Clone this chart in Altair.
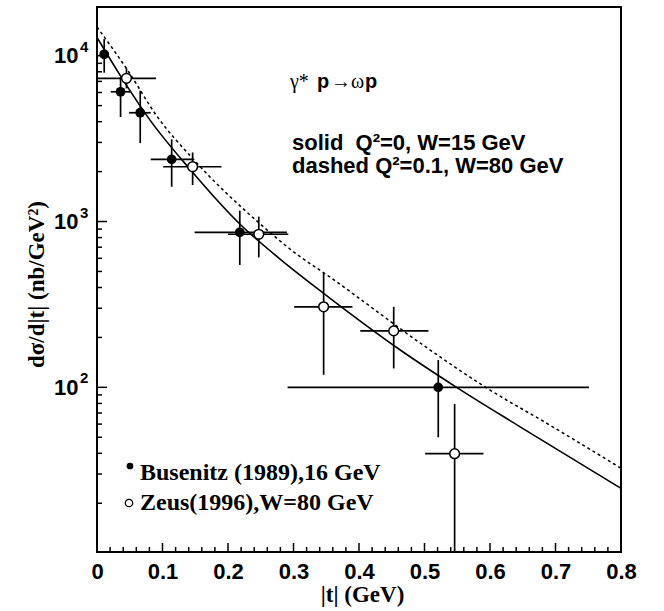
import altair as alt
import pandas as pd

# ---------------- data ----------------
# Busenitz (1989), 16 GeV  (filled circles)
t_fill = [0.011, 0.036, 0.066, 0.114, 0.218, 0.521]
s_fill = [10200, 6060, 4530, 2370, 861, 100]
s_fill_lo = [7900, 4270, 2970, 1620, 547, 50]
s_fill_hi = [12600, 7430, 6150, 3130, 1163, 146]
t_fill_lo = [0.011, 0.021, 0.049, 0.082, 0.149, 0.291]
t_fill_hi = [0.011, 0.051, 0.082, 0.146, 0.290, 0.751]

# Zeus (1996), W=80 GeV  (open circles)
t_open = [0.045, 0.146, 0.247, 0.346, 0.453, 0.546]
s_open = [7310, 2140, 838, 306, 219, 39.8]
s_open_lo = [6350, 1660, 608, 119, 130, 1]
s_open_hi = [8400, 2610, 1070, 491, 306, 79.3]
t_open_lo = [0.0, 0.101, 0.200, 0.301, 0.402, 0.501]
t_open_hi = [0.090, 0.190, 0.292, 0.390, 0.506, 0.590]

# model curves
t_solid = [0.0, 0.040, 0.081, 0.142, 0.218, 0.279, 0.346, 0.463, 0.549, 0.646, 0.8]
v_solid = [12900, 7130, 4090, 2065, 966, 596, 369, 168, 100, 57.8, 24.6]
t_dash = [0.0, 0.048, 0.091, 0.147, 0.249, 0.305, 0.351, 0.503, 0.590, 0.697, 0.8]
v_dash = [14900, 8035, 4345, 2377, 968, 635, 476, 174, 102, 57.4, 32.5]

# axes
x_major = [0.0, 0.1, 0.2, 0.3, 0.4, 0.5, 0.6, 0.7, 0.8]
x_minor = [0.02, 0.04, 0.06, 0.08, 0.12, 0.14, 0.16, 0.18, 0.22, 0.24, 0.26, 0.28,
           0.32, 0.34, 0.36, 0.38, 0.42, 0.44, 0.46, 0.48, 0.52, 0.54, 0.56, 0.58,
           0.62, 0.64, 0.66, 0.68, 0.72, 0.74, 0.76, 0.78]
y_major = [100, 1000, 10000]
y_exp = ["2", "3", "4"]
y_minor = [20, 30, 40, 50, 60, 70, 80, 90, 200, 300, 400, 500, 600, 700, 800, 900,
           2000, 3000, 4000, 5000, 6000, 7000, 8000, 9000]

X_DOMAIN = [0.0, 0.8]
Y_DOMAIN = [10.16, 19670]

W, H = 524, 545
SANS = "Liberation Sans"
SERIF = "Liberation Serif"

xs = alt.Scale(domain=X_DOMAIN, nice=False, zero=False)
ys = alt.Scale(type="log", domain=Y_DOMAIN, nice=False)

x_axis = alt.Axis(values=x_major, labelExpr="datum.value == 0 ? '0' : format(datum.value, '.1f')",
                  ticks=False, domain=False, grid=False, labelFont=SANS, labelFontWeight="bold",
                  labelFontSize=22, labelPadding=9, labelColor="black",
                  title="|t| (GeV)", titleFont=SERIF, titleFontWeight="bold", titleFontSize=23,
                  titleColor="black", titleX=265, titleY=49, titleBaseline="alphabetic",
                  titleAlign="center", labelFlush=False)
y_axis = alt.Axis(values=y_major, labelExpr="'10'", ticks=False, domain=False, grid=False,
                  labelFont=SANS, labelFontWeight="bold", labelFontSize=22, labelPadding=19,
                  labelColor="black", labelAlign="right", labelBaseline="middle",
                  title="dσ/d|t| (nb/GeV²)", titleFont=SERIF, titleFontWeight="bold",
                  titleFontSize=23, titleColor="black", titleAngle=-90, titleX=-61, titleY=277,
                  titleBaseline="middle", titleAlign="center", labelFlush=False)


def X(f):
    return alt.X(f, type="quantitative", scale=xs, axis=x_axis)


def Y(f):
    return alt.Y(f, type="quantitative", scale=ys, axis=y_axis)


fill_df = pd.DataFrame(dict(t=t_fill, v=s_fill, lo=s_fill_lo, hi=s_fill_hi,
                            tlo=t_fill_lo, thi=t_fill_hi))
open_df = pd.DataFrame(dict(t=t_open, v=s_open, lo=s_open_lo, hi=s_open_hi,
                            tlo=t_open_lo, thi=t_open_hi))
solid_df = pd.DataFrame(dict(t=t_solid, v=v_solid))
dash_df = pd.DataFrame(dict(t=t_dash, v=v_dash))
xmaj_df = pd.DataFrame(dict(t=x_major))
xmin_df = pd.DataFrame(dict(t=x_minor))
ymaj_df = pd.DataFrame(dict(v=y_major, e=y_exp))
ymin_df = pd.DataFrame(dict(v=y_minor))

# ---------------- inward ticks ----------------
xtick_major = alt.Chart(xmaj_df).mark_rule(color="black", strokeWidth=1.5).encode(
    x=X("t"), y=alt.value(H), y2=alt.value(H - 9))
xtick_minor = alt.Chart(xmin_df).mark_rule(color="black", strokeWidth=1.5).encode(
    x=X("t"), y=alt.value(H), y2=alt.value(H - 5))
ytick_major = alt.Chart(ymaj_df).mark_rule(color="black", strokeWidth=1.5).encode(
    y=Y("v"), x=alt.value(0), x2=alt.value(10))
ytick_minor = alt.Chart(ymin_df).mark_rule(color="black", strokeWidth=1.5).encode(
    y=Y("v"), x=alt.value(0), x2=alt.value(5))
yexp = alt.Chart(ymaj_df).mark_text(font=SANS, fontWeight="bold", fontSize=15, align="left",
                                    baseline="middle", dy=-9, color="black").encode(
    y=Y("v"), x=alt.value(-17), text="e:N")

# ---------------- curves ----------------
solid = alt.Chart(solid_df).mark_line(color="black", strokeWidth=1.6, interpolate="monotone",
                                      clip=True).encode(x=X("t"), y=Y("v"))
dashed = alt.Chart(dash_df).mark_line(color="black", strokeWidth=1.5, strokeDash=[3, 3],
                                      interpolate="monotone", clip=True).encode(x=X("t"), y=Y("v"))


# ---------------- error bars and markers ----------------
def bars(df):
    h = alt.Chart(df).mark_rule(color="black", strokeWidth=1.7, clip=True).encode(
        x=X("tlo"), x2=alt.X2("thi"), y=Y("v"))
    v = alt.Chart(df).mark_rule(color="black", strokeWidth=1.7, clip=True).encode(
        x=X("t"), y=Y("lo"), y2=alt.Y2("hi"))
    return h + v


fill_pts = alt.Chart(fill_df).mark_point(shape="circle", filled=True, color="black", size=95,
                                         opacity=1).encode(x=X("t"), y=Y("v"))
open_pts = alt.Chart(open_df).mark_point(shape="circle", filled=True, fill="white", stroke="black",
                                         strokeWidth=1.5, size=95, opacity=1).encode(x=X("t"), y=Y("v"))


# ---------------- annotations ----------------
def txt(s, x, y, font, size, weight="bold", style="normal", align="left"):
    return alt.Chart(pd.DataFrame({"s": [s]})).mark_text(
        font=font, fontSize=size, fontWeight=weight, fontStyle=style, align=align,
        baseline="alphabetic", color="black").encode(text="s:N", x=alt.value(x), y=alt.value(y))


NB = "\u00a0"
ann = (txt("γ*", 193, 81, SERIF, 20, weight="normal")
       + txt("p", 220, 81, SANS, 20)
       + txt("→", 234, 81, SERIF, 20, weight="normal")
       + txt("ω", 254, 81, SERIF, 20, weight="normal")
       + txt("p", 268, 81, SANS, 20)
       + txt("solid " + NB + "Q²=0, W=15 GeV", 195, 143, SANS, 22)
       + txt("dashed Q²=0.1, W=80 GeV", 195, 166, SANS, 22))

legend = (alt.Chart(pd.DataFrame({"a": [0]})).mark_point(shape="circle", filled=True, color="black",
                                                         size=45, opacity=1)
          .encode(x=alt.value(33), y=alt.value(459))
          + alt.Chart(pd.DataFrame({"a": [0]})).mark_point(shape="circle", filled=True, fill="white",
                                                           stroke="black", strokeWidth=1.3, size=55,
                                                           opacity=1)
          .encode(x=alt.value(32), y=alt.value(496))
          + txt("Busenitz (1989),16 GeV", 43, 473, SERIF, 24)
          + txt("Zeus(1996),W=80 GeV", 43, 503, SERIF, 24))

chart = alt.layer(
    xtick_major, xtick_minor, ytick_major, ytick_minor, yexp,
    solid, dashed, bars(fill_df), bars(open_df), fill_pts, open_pts, ann, legend
).properties(
    width=W, height=H, autosize="none",
    padding={"left": 97, "top": 7, "right": 43, "bottom": 59},
    background="white",
).configure_view(stroke="black", strokeWidth=2)

chart.save("out.html", embed_options={"renderer": "svg", "actions": False})
